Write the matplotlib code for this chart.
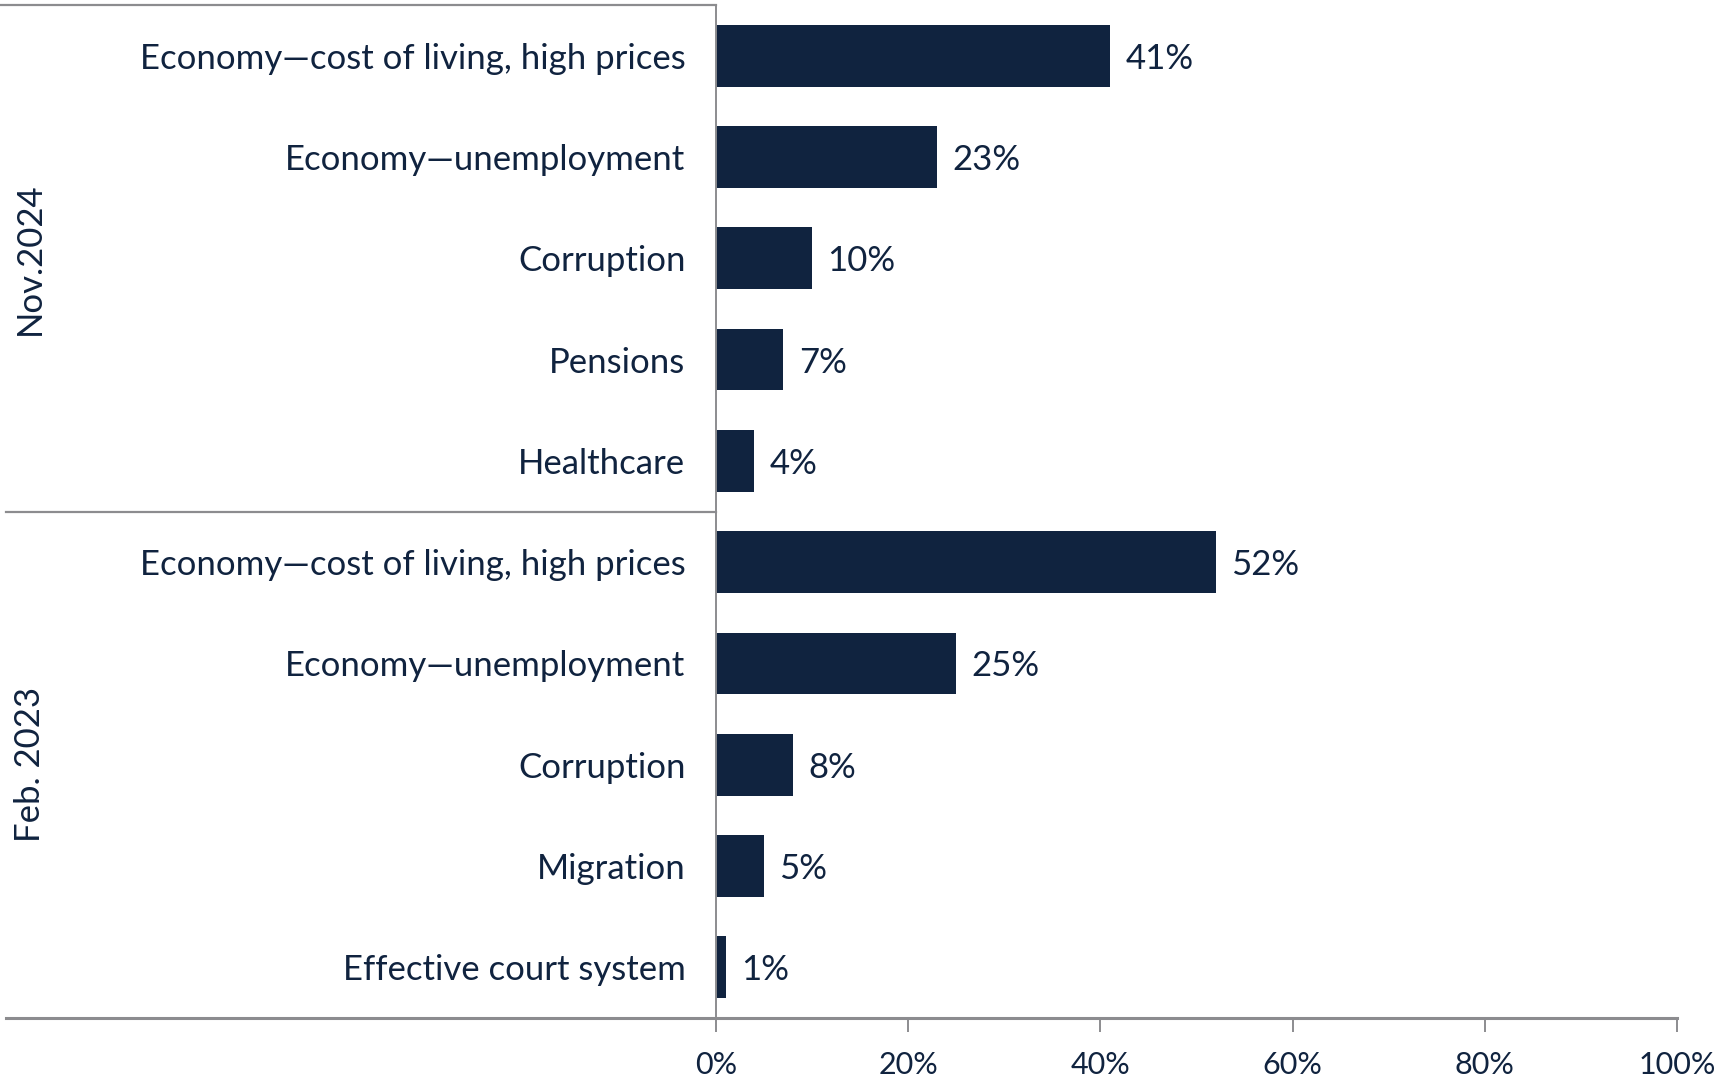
import matplotlib.pyplot as plt
from matplotlib import transforms

# data
categories = [
    "Economy\u2014cost of living, high prices",
    "Economy\u2014unemployment",
    "Corruption",
    "Pensions",
    "Healthcare",
    "Economy\u2014cost of living, high prices",
    "Economy\u2014unemployment",
    "Corruption",
    "Migration",
    "Effective court system",
]
values = [41, 23, 10, 7, 4, 52, 25, 8, 5, 1]
groups = ["Nov.2024", "Feb. 2023"]
group_sizes = [5, 5]
x_ticks = [0, 20, 40, 60, 80, 100]

navy = "#10233f"
grey = "#8c8c8f"

plt.rcParams["font.family"] = ["Lato", "DejaVu Sans"]

W, H = 1735, 1076
fig = plt.figure(figsize=(W / 100, H / 100), dpi=100)
# axes: 0% at x=716px, 100% at x=1677px, top 5px, bottom 1018px
x0, x1, y_top, y_bot = 716, 1677, 5, 1018
ax = fig.add_axes([x0 / W, 1 - y_bot / H, (x1 - x0) / W, (y_bot - y_top) / H])

pos = list(range(len(categories)))
ax.barh(pos, values, height=0.61, color=navy)
ax.set_ylim(len(categories) - 0.5, -0.5)
ax.set_xlim(0, 100)

# value labels
for p, v in zip(pos, values):
    ax.text(v + 1.6, p, f"{v}%", va="center_baseline", ha="left",
            fontsize=25, color=navy)

# category labels
ax.set_yticks(pos)
ax.set_yticklabels(categories, fontsize=25, color=navy)
for lab in ax.get_yticklabels():
    lab.set_verticalalignment("center_baseline")
ax.tick_params(axis="y", length=0, pad=22)

ax.set_xticks(x_ticks)
ax.set_xticklabels([f"{t}%" for t in x_ticks], fontsize=22, color=navy)
ax.tick_params(axis="x", length=10, width=1.4, color=grey, pad=14)

for s in ["top", "right", "bottom"]:
    ax.spines[s].set_visible(False)
ax.spines["left"].set_color(grey)
ax.spines["left"].set_linewidth(1.4)

# rules that run into the label area (figure x, data y)
trans = transforms.blended_transform_factory(fig.transFigure, ax.transData)
ax.plot([6 / W, x1 / W], [len(categories) - 0.5] * 2, transform=trans,
        color=grey, lw=2.2, clip_on=False)
ax.plot([0, x0 / W], [-0.5, -0.5], transform=trans,
        color=grey, lw=1.6, clip_on=False)

# group separators and rotated group names
start = 0
for i, (g, n) in enumerate(zip(groups, group_sizes)):
    mid = start + (n - 1) / 2
    ax.text(30 / W, mid, g, rotation=90, va="center", ha="center",
            fontsize=25, color=navy, transform=trans)
    start += n
    if i < len(groups) - 1:
        ax.plot([6 / W, x0 / W], [start - 0.5] * 2, transform=trans,
                color=grey, lw=1.6, clip_on=False)

fig.savefig("out.png", dpi=100)
